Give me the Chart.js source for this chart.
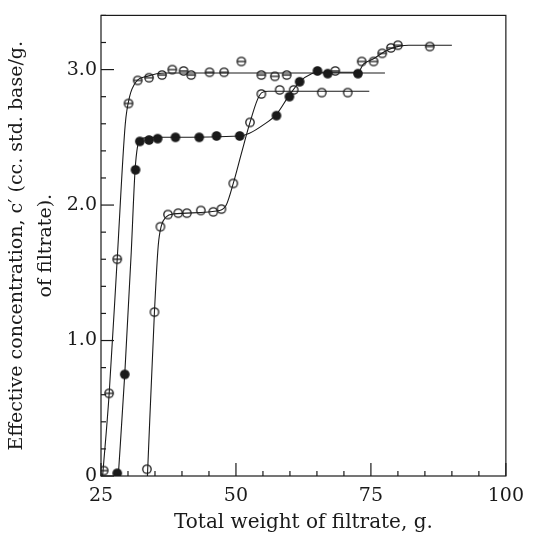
<!DOCTYPE html>
<html>
<head>
<meta charset="utf-8">
<script src="https://cdn.jsdelivr.net/npm/chart.js@4.4.1/dist/chart.umd.min.js"></script>
<style>
  html, body { margin: 0; padding: 0; background: #fff; }
  #wrap { width: 533px; height: 537px; }
</style>
</head>
<body>
<div id="wrap"><canvas id="filtrateChart"></canvas></div>
<script>
// axis limits and tick labels
const xRange = [25, 100];
const yRange = [0, 3.4];
const xLabels = [25, 50, 75, 100];
const yLabels = [0, 1, 2, 3];

// hand-drawn curves
const curveBar = [[25.3, 0], [26.5, 0.6], [28.0, 1.6], [29.5, 2.6], [30.3, 2.8], [31.5, 2.91],
    [33.5, 2.95], [37, 2.975], [77.6, 2.975]];
const curveSolid = [[28.2, 0], [29.4, 0.75], [30.6, 1.65], [31.3, 2.25], [31.8, 2.44], [32.4, 2.49],
    [35, 2.5], [50.7, 2.51], [52.5, 2.53], [55, 2.59], [57.5, 2.67], [59.7, 2.8], [61.8, 2.91],
    [64, 2.97], [65.5, 2.98], [72.6, 2.98], [73.6, 3.04], [75.5, 3.08], [77.4, 3.13],
    [79, 3.16], [80.5, 3.175], [82, 3.18], [90, 3.18]];
const curveOpen = [[33.6, 0], [34.9, 1.21], [35.6, 1.7], [36.2, 1.85], [37, 1.91], [38.5, 1.935],
    [47, 1.96], [48.2, 2.0], [49.5, 2.16], [51, 2.38], [52.6, 2.61], [54, 2.78], [54.8, 2.83],
    [56, 2.84], [74.7, 2.84]];

// measured points
const barPoints = [[25.5, 0.04], [26.5, 0.61], [28.0, 1.6], [30.1, 2.75], [31.8, 2.92], [33.9, 2.94],
    [36.3, 2.96], [38.2, 3.0], [40.3, 2.99], [41.7, 2.96], [45.1, 2.98], [47.8, 2.98], [51.0, 3.06],
    [54.7, 2.96], [57.2, 2.95], [59.4, 2.96], [68.4, 2.99]];
const upperBarPoints = [[73.3, 3.06], [75.5, 3.06], [77.1, 3.12], [78.7, 3.16], [80.0, 3.18], [85.9, 3.17]];
const solidPoints = [[28.0, 0.02], [29.4, 0.75], [31.4, 2.26], [32.2, 2.47], [33.9, 2.48], [35.5, 2.49],
    [38.8, 2.5], [43.2, 2.5], [46.4, 2.51], [50.7, 2.51], [57.5, 2.66], [59.9, 2.8], [61.8, 2.91],
    [65.1, 2.99], [67.0, 2.97], [72.6, 2.97]];
const openPoints = [[33.5, 0.05], [34.9, 1.21], [36.0, 1.84], [37.4, 1.93], [39.3, 1.94], [40.9, 1.94],
    [43.5, 1.96], [45.8, 1.95], [47.3, 1.97], [49.5, 2.16], [52.6, 2.61], [54.7, 2.82], [58.1, 2.85],
    [60.7, 2.85], [65.9, 2.83], [70.7, 2.83]];

const ink = '#1a1a1a';
const serif = "'DejaVu Serif', 'Liberation Serif', serif";

function toXY(pairs) {
    return pairs.map(p => ({ x: p[0], y: p[1] }));
}

// small canvases used as point styles
function makeMarker(kind) {
    const c = document.createElement('canvas');
    c.width = 12;
    c.height = 12;
    const g = c.getContext('2d');
    g.strokeStyle = ink;
    g.lineWidth = 1.3;
    g.beginPath();
    g.arc(6, 6, 4.2, 0, 2 * Math.PI);
    if (kind === 'filled') {
        g.fillStyle = ink;
        g.fill();
    }
    g.stroke();
    if (kind === 'bar') {
        g.beginPath();
        g.moveTo(2, 6);
        g.lineTo(10, 6);
        g.stroke();
    }
    return c;
}

function curveSet(pairs) {
    return {
        data: toXY(pairs),
        showLine: true,
        borderColor: ink,
        borderWidth: 1.1,
        pointRadius: 0,
        cubicInterpolationMode: 'monotone'
    };
}

function pointSet(pairs, kind) {
    return {
        data: toXY(pairs),
        showLine: false,
        pointStyle: makeMarker(kind),
        pointRadius: 5
    };
}

// inward ticks and the closed frame
const frameTicks = {
    id: 'frameTicks',
    afterDraw(chart) {
        const ctx = chart.ctx;
        const a = chart.chartArea;
        const xs = chart.scales.x;
        const ys = chart.scales.y;
        ctx.save();
        ctx.strokeStyle = ink;
        ctx.lineWidth = 1.2;
        ctx.strokeRect(a.left, a.top, a.right - a.left, a.bottom - a.top);
        xs.ticks.forEach(t => {
            const px = xs.getPixelForValue(t.value);
            const major = Math.abs(t.value % 25) < 1e-6;
            ctx.beginPath();
            ctx.moveTo(px, a.bottom);
            ctx.lineTo(px, a.bottom - (major ? 13 : 5));
            ctx.stroke();
        });
        ys.ticks.forEach(t => {
            const py = ys.getPixelForValue(t.value);
            const major = Math.abs(t.value - Math.round(t.value)) < 1e-6;
            ctx.beginPath();
            ctx.moveTo(a.left, py);
            ctx.lineTo(a.left + (major ? 13 : 5), py);
            ctx.stroke();
        });
        ctx.restore();
    }
};

const ctx = document.getElementById('filtrateChart').getContext('2d');
new Chart(ctx, {
    type: 'scatter',
    data: {
        datasets: [
            curveSet(curveBar),
            curveSet(curveSolid),
            curveSet(curveOpen),
            pointSet(barPoints, 'bar'),
            pointSet(upperBarPoints, 'bar'),
            pointSet(solidPoints, 'filled'),
            pointSet(openPoints, 'open')
        ]
    },
    options: {
        responsive: true,
        maintainAspectRatio: false,
        animation: false,
        layout: { padding: { top: 15, right: 21, left: 0, bottom: 0 } },
        plugins: {
            legend: { display: false },
            tooltip: { enabled: false }
        },
        scales: {
            x: {
                type: 'linear',
                min: xRange[0],
                max: xRange[1],
                grid: { display: false, drawTicks: false },
                border: { display: false },
                ticks: {
                    stepSize: 5,
                    autoSkip: false,
                    maxRotation: 0,
                    padding: 9,
                    color: ink,
                    font: { family: serif, size: 19 },
                    callback: v => (xLabels.includes(v) ? String(v) : '')
                },
                title: {
                    display: true,
                    text: 'Total weight of filtrate, g.',
                    color: ink,
                    font: { family: serif, size: 20 },
                    padding: { top: 0, bottom: 2 }
                },
                afterFit: scale => { scale.height = 61; }
            },
            y: {
                type: 'linear',
                min: yRange[0],
                max: yRange[1],
                grid: { display: false, drawTicks: false },
                border: { display: false },
                ticks: {
                    stepSize: 0.2,
                    autoSkip: false,
                    padding: 4,
                    color: ink,
                    font: { family: serif, size: 19 },
                    callback: v => {
                        const n = Math.round(v);
                        if (Math.abs(v - n) > 1e-6 || !yLabels.includes(n)) return '';
                        return n === 0 ? '0' : n.toFixed(1);
                    }
                },
                title: {
                    display: true,
                    text: ['Effective concentration, c\u2032 (cc. std. base/g.', 'of filtrate).'],
                    color: ink,
                    font: { family: serif, size: 19, lineHeight: 1.55 },
                    padding: { top: 2, bottom: 0 }
                },
                afterFit: scale => { scale.width = 101; }
            }
        }
    },
    plugins: [frameTicks]
});
</script>
</body>
</html>
